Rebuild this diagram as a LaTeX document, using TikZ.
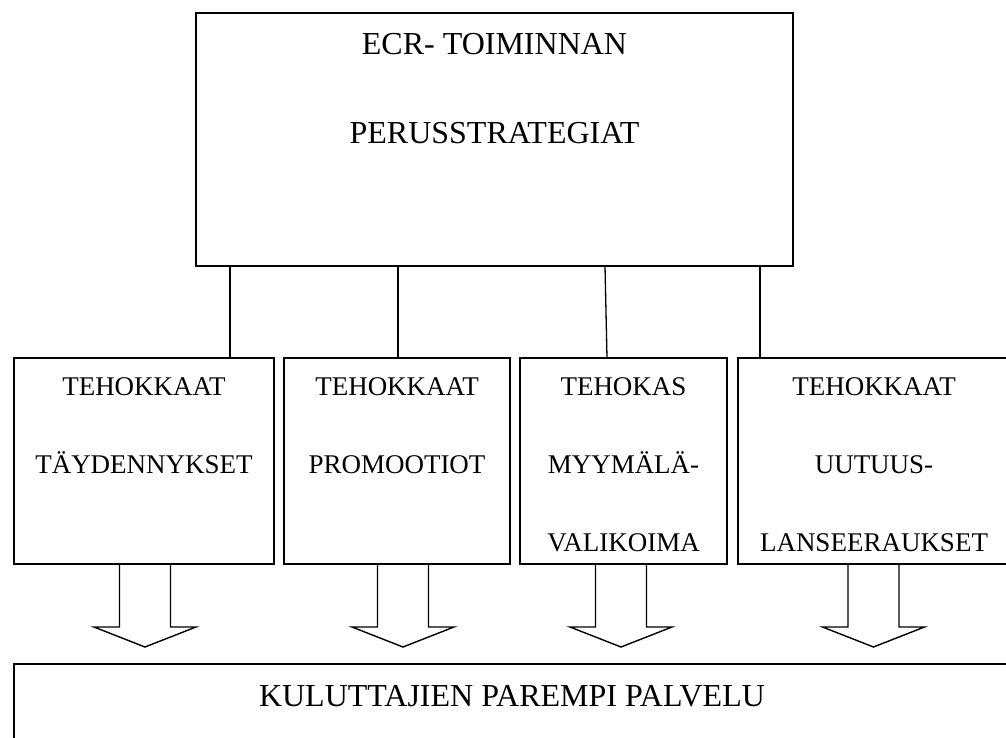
\documentclass[tikz,border=0pt]{standalone}
\usepackage{fontspec}
\setmainfont{Liberation Serif}
\usepackage{tikz}
\usetikzlibrary{arrows.meta, positioning, calc}

\tikzset{
    box/.style={draw, line width=1.3pt, inner sep=0pt, outer sep=0pt},
    txt/.style={inner sep=0pt, align=center, font=\fontsize{27}{78}\selectfont},
    bigtxt/.style={inner sep=0pt, align=center, font=\fontsize{32}{89}\selectfont},
    fatarrow/.style={draw, line width=1.4pt, line join=miter}
}

\begin{document}
\begin{tikzpicture}[x=1pt, y=-1pt]
    \fill[white] (0, 0) rectangle (1006, 738);
    \useasboundingbox (0, 0) rectangle (1006, 738);
    \clip (0, 0) rectangle (1006, 738);

    % 上框
    \node[box, minimum width=597pt, minimum height=253pt] (top) at (494.5, 139.5) {};
    \node[bigtxt, anchor=north, below=20pt of top.north] (toptxt) {ECR- TOIMINNAN\\PERUSSTRATEGIAT};

    % 四个框
    \node[box, minimum width=260pt, minimum height=206pt] (b1) at (144, 461) {};
    \node[box, minimum width=226pt, minimum height=206pt] (b2) at (397, 461) {};
    \node[box, minimum width=207pt, minimum height=206pt] (b3) at (623.5, 461) {};
    \node[box, minimum width=272pt, minimum height=206pt] (b4) at (874, 461) {};

    \node[txt, anchor=north, below=19pt of b1.north] (t1) {TEHOKKAAT\\TÄYDENNYKSET};
    \node[txt, anchor=north, below=19pt of b2.north] (t2) {TEHOKKAAT\\PROMOOTIOT};
    \node[txt, anchor=north, below=19pt of b3.north] (t3) {TEHOKAS\\MYYMÄLÄ-\\VALIKOIMA};
    \node[txt, anchor=north, below=19pt of b4.north] (t4) {TEHOKKAAT\\UUTUUS-\\LANSEERAUKSET};

    % 连线
    \coordinate (c1) at (230, 266);
    \coordinate (c2) at (398, 266);
    \coordinate (c3) at (605, 266);
    \coordinate (c4) at (760, 266);
    \draw[line width=1.3pt] (c1) -- (c1 |- b1.north);
    \draw[line width=1.3pt] (c2) -- (c2 |- b2.north);
    \draw[line width=1.3pt] (c3) -- ($(c3 |- b3.north) + (2, 0)$);
    \draw[line width=1.3pt] (c4) -- (c4 |- b4.north);

    % 下框
    \node[box, minimum width=996pt, minimum height=96pt] (bot) at (512, 712) {};
    \node[bigtxt, anchor=north, below=21pt of bot.north] (bottxt) {KULUTTAJIEN PAREMPI PALVELU};

    % 空心箭头
    \foreach \b/\dx in {b1/1, b2/6, b3/-2.5, b4/-0.5}
        \draw[fatarrow] (\b.south) ++(\dx-25.5, 0) -- ++(0, 63) -- ++(-25.5, 0)
            -- ++(51, 20) -- ++(51, -20) -- ++(-25.5, 0) -- ++(0, -63);
\end{tikzpicture}
\end{document}
